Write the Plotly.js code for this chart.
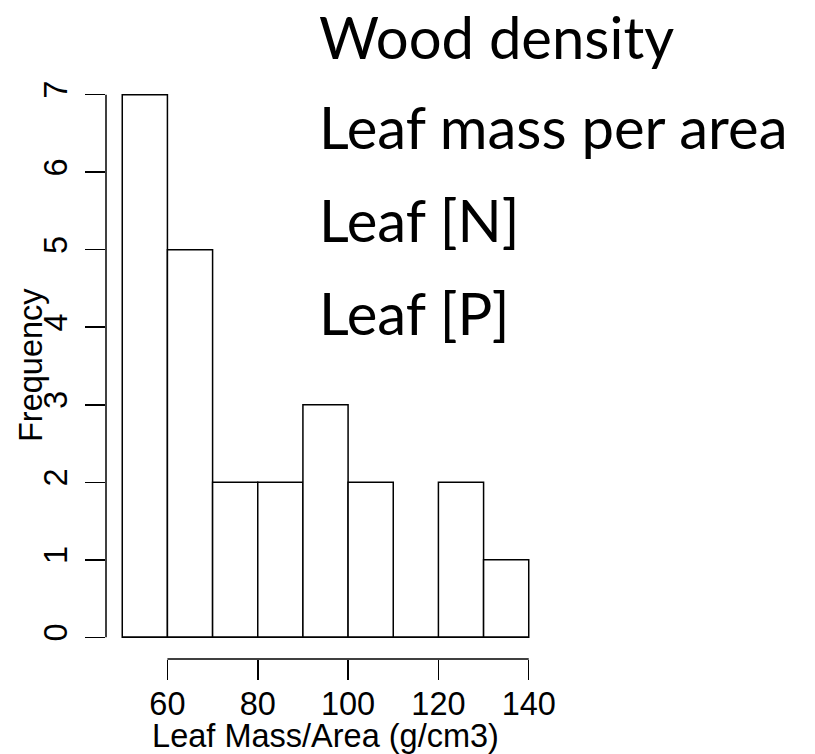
<!DOCTYPE html>
<html>
<head>
<meta charset="utf-8">
<script src="https://cdn.plot.ly/plotly-3.0.1.min.js"></script>
<style>html,body{margin:0;padding:0;background:#fff;}</style>
</head>
<body>
<div id="chart" style="width:815px;height:754px;"></div>
<script>
// Histogram of leaf mass per area: bins of width 10 from 50 to 140
var binStarts = [50, 60, 70, 80, 90, 100, 110, 120, 130];
var binWidth = 10;
var counts = [7, 5, 2, 2, 3, 2, 0, 2, 1];
var xTicks = [60, 80, 100, 120, 140];
var yTicks = [0, 1, 2, 3, 4, 5, 6, 7];
var labels = ["Wood density", "Leaf mass per area", "Leaf [N]", "Leaf [P]"];
var xTitle = "Leaf Mass/Area (g/cm3)";
var yTitle = "Frequency";

var centers = binStarts.map(function(s){ return s + binWidth/2; });

var trace = {
  type: 'bar',
  x: centers,
  y: counts,
  width: binStarts.map(function(){ return binWidth; }),
  marker: {color: '#ffffff', line: {color: '#000000', width: 1.5}},
  hoverinfo: 'x+y'
};

var axisFont = {family: 'Liberation Sans, Arial, sans-serif', size: 32.5, color: '#000'};

var shapes = [
  {type: 'line', xref: 'x', yref: 'paper', x0: xTicks[0], x1: xTicks[xTicks.length-1], y0: 0, y1: 0,
   line: {color: '#000', width: 1.5}},
  {type: 'line', xref: 'paper', yref: 'y', x0: 0, x1: 0, y0: yTicks[0], y1: yTicks[yTicks.length-1],
   line: {color: '#000', width: 1.5}},
  {type: 'line', xref: 'x', yref: 'y', x0: binStarts[0], x1: binStarts[binStarts.length-1] + binWidth, y0: 0, y1: 0,
   line: {color: '#000', width: 1.5}}
];

// plot area in pixels: x 106..545, y 73..659
function px2paperX(p){ return (p - 106) / 439; }
function px2paperY(p){ return (659 - p) / 586; }

var annFont = {family: 'Lato, sans-serif', size: 58, color: '#000'};
var annTop = [0, 90, 183, 276];
var annotations = labels.map(function(t, i){
  return {text: t, xref: 'paper', yref: 'paper', x: px2paperX(317), y: px2paperY(annTop[i]),
          xanchor: 'left', yanchor: 'top', showarrow: false, font: annFont};
});
annotations.push({text: yTitle, xref: 'paper', yref: 'paper', x: px2paperX(31), y: px2paperY(365),
  xanchor: 'center', yanchor: 'middle', textangle: -90, showarrow: false, font: axisFont});

var layout = {
  width: 815, height: 754,
  margin: {l: 106, r: 270, t: 73, b: 95, pad: 0},
  paper_bgcolor: '#fff', plot_bgcolor: '#fff',
  showlegend: false,
  bargap: 0,
  xaxis: {
    range: [46.4, 143.6], tickmode: 'array', tickvals: xTicks,
    ticks: 'outside', ticklen: 20, tickwidth: 1.5, tickcolor: '#000',
    showline: false, showgrid: false, zeroline: false,
    tickfont: axisFont, ticklabelstandoff: -4,
    title: {text: xTitle, font: axisFont, standoff: 0}
  },
  yaxis: {
    range: [-0.28, 7.28], tickmode: 'array', tickvals: yTicks,
    ticks: 'outside', ticklen: 20, tickwidth: 1.5, tickcolor: '#000',
    showline: false, showgrid: false, zeroline: false,
    tickangle: -90, ticklabelstandoff: 5,
    tickfont: axisFont
  },
  shapes: shapes,
  annotations: annotations
};

Plotly.newPlot('chart', [trace], layout, {displayModeBar: false, staticPlot: true});
</script>
</body>
</html>
